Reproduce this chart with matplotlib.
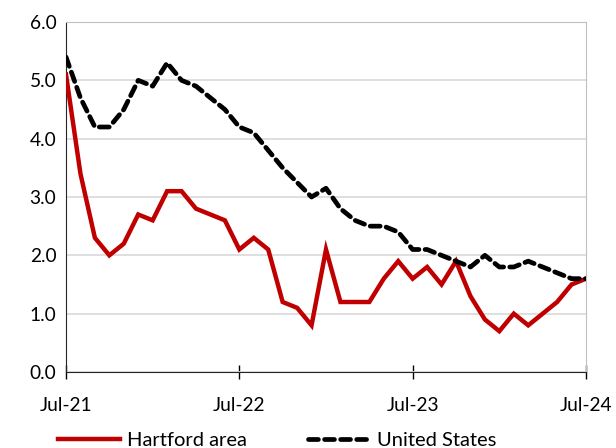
import matplotlib.pyplot as plt
import numpy as np

plt.rcParams['font.family'] = ['Lato', 'DejaVu Sans']

# monthly values, Jul-21 .. Jul-24
hartford = [5.1, 3.4, 2.3, 2.0, 2.2, 2.7, 2.6, 3.1, 3.1, 2.8, 2.7, 2.6,
            2.1, 2.3, 2.1, 1.2, 1.1, 0.8, 2.1, 1.2, 1.2, 1.2, 1.6, 1.9,
            1.6, 1.8, 1.5, 1.9, 1.3, 0.9, 0.7, 1.0, 0.8, 1.0, 1.2, 1.5, 1.6]
us = [5.4, 4.7, 4.2, 4.2, 4.5, 5.0, 4.9, 5.3, 5.0, 4.9, 4.7, 4.5,
      4.2, 4.1, 3.8, 3.5, 3.25, 3.0, 3.15, 2.8, 2.6, 2.5, 2.5, 2.4,
      2.1, 2.1, 2.0, 1.9, 1.8, 2.0, 1.8, 1.8, 1.9, 1.8, 1.7, 1.6, 1.6]
tick_pos = [0, 12, 24, 36]
tick_labels = ['Jul-21', 'Jul-22', 'Jul-23', 'Jul-24']

months = np.arange(len(hartford))

fig = plt.figure(figsize=(6.16, 4.48), dpi=100)
ax = fig.add_axes([66/616, 76/448, 520/616, 350/448])

ax.plot(months, hartford, color='#c00000', lw=3.2, label='Hartford area',
        solid_joinstyle='miter', zorder=3)
ax.plot(months, us, color='black', lw=3.4, ls=(0, (2.1, 1.3)), label='United States',
        dash_capstyle='round', zorder=3)

ax.set_xlim(0, 36)
ax.set_ylim(0, 6)
ax.set_yticks(np.arange(0, 6.1, 1.0))
ax.set_yticklabels(['%.1f' % v for v in np.arange(0, 6.1, 1.0)], fontsize=13.8)
ax.set_xticks(tick_pos)
ax.set_xticklabels(tick_labels, fontsize=13.8)
ax.yaxis.grid(True, color='#d9d9d9', lw=1.2)
ax.set_axisbelow(True)
ax.tick_params(axis='y', length=0, pad=7)
ax.tick_params(axis='x', direction='inout', length=10, width=1, pad=13)
for s in ['top', 'right']:
    ax.spines[s].set_color('#bfbfbf')
for s in ['left', 'bottom']:
    ax.spines[s].set_color('#262626')

fig.legend(loc='lower center', ncol=2, frameon=False, fontsize=14.5,
           bbox_to_anchor=(0.45, -0.042), handlelength=3.1, columnspacing=3.0,
           handletextpad=0.35)

fig.savefig('out.png', dpi=100)
